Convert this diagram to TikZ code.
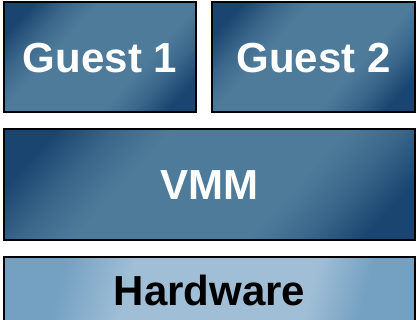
\documentclass[tikz,border=0pt]{standalone}
\usepackage{fontspec}
\setmainfont{Liberation Sans}
\definecolor{dkblue}{HTML}{1A4570}
\definecolor{mdblue}{HTML}{3A668A}
\definecolor{ltblue}{HTML}{4F7B9B}
\definecolor{hwdark}{HTML}{74A0C2}
\definecolor{hwlight}{HTML}{A0BFD6}
% diagonal panel shading: dark corners, broad lighter middle
\pgfdeclarehorizontalshading{panelshade}{100bp}{color(0bp)=(dkblue); color(22bp)=(dkblue); color(30bp)=(mdblue); color(38bp)=(ltblue); color(62bp)=(ltblue); color(70bp)=(mdblue); color(78bp)=(dkblue); color(100bp)=(dkblue)}
\pgfdeclarehorizontalshading{hwshade}{100bp}{color(0bp)=(hwdark); color(28bp)=(hwdark); color(38bp)=(hwlight); color(64bp)=(hwlight); color(72bp)=(hwdark); color(100bp)=(hwdark)}
\tikzset{
  panel/.style={draw=black, line width=2pt, shading=panelshade, shading angle=-42},
  hwpanel/.style={draw=black, line width=2pt, shading=hwshade, shading angle=-15},
  paneltext/.style={text=white, font=\fontsize{42}{42}\bfseries},
  hwtext/.style={text=black, font=\fontsize{42}{42}\bfseries}
}
\begin{document}
\begin{tikzpicture}[x=1pt,y=-1pt]
\useasboundingbox (0,0) rectangle (417,320);
\clip (0,0) rectangle (417,320);
\fill[white] (0,0) rectangle (417,320);
\path[panel] (4,2) rectangle (196,112);
\node[paneltext] (g1) at (100,58) {Guest 1};
\path[panel] (212,2) rectangle (415,112);
\node[paneltext] (g2) at (313.5,58) {Guest 2};
\path[panel] (4,129) rectangle (415,240);
\node[paneltext] (vmm) at (209.5,185) {VMM};
\path[hwpanel] (4,257) rectangle (415,340);
\node[hwtext] (hw) at (209.5,290) {Hardware};
\end{tikzpicture}
\end{document}
